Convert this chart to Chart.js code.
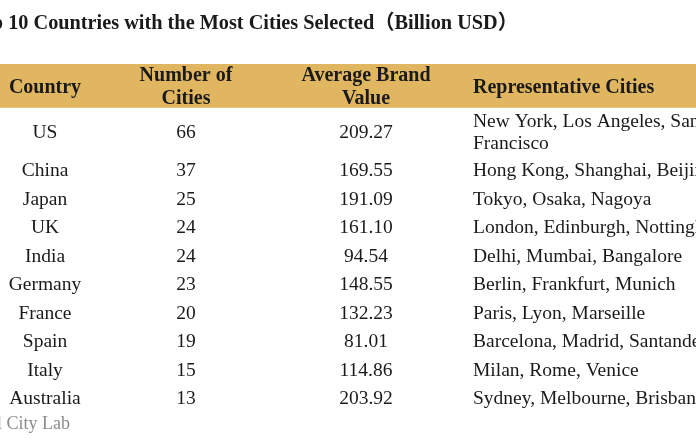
<!DOCTYPE html>
<html>
<head>
<meta charset="utf-8">
<script src="https://cdn.jsdelivr.net/npm/chart.js@4/dist/chart.umd.min.js"></script>
<style>
  html, body { margin: 0; padding: 0; background: #ffffff; }
  #wrap { width: 696px; height: 446px; }
</style>
</head>
<body>
<div id="wrap"><canvas id="c" width="696" height="446"></canvas></div>
<script>
// ---------------- DATA ----------------
const titleText = "Top 10 Countries with the Most Cities Selected（Billion USD）";
const sourceText = "Source: Global City Lab";
const headerLabels = [["Country"], ["Number of", "Cities"], ["Average Brand", "Value"], ["Representative Cities"]];
const countries = ["US", "China", "Japan", "UK", "India", "Germany", "France", "Spain", "Italy", "Australia"];
const cityCounts = [66, 37, 25, 24, 24, 23, 20, 19, 15, 13];
const brandValues = [209.27, 169.55, 191.09, 161.10, 94.54, 148.55, 132.23, 81.01, 114.86, 203.92];
const repCities = [
  "New York, Los Angeles, San Francisco",
  "Hong Kong, Shanghai, Beijing",
  "Tokyo, Osaka, Nagoya",
  "London, Edinburgh, Nottingham",
  "Delhi, Mumbai, Bangalore",
  "Berlin, Frankfurt, Munich",
  "Paris, Lyon, Marseille",
  "Barcelona, Madrid, Santander",
  "Milan, Rome, Venice",
  "Sydney, Melbourne, Brisbane"
];

// ---------------- STYLE / LAYOUT OPTIONS ----------------
const style = {
  serif: '"Liberation Serif", "Times New Roman", "Noto Sans CJK SC", serif',
  bodySize: 19.5,
  headerSize: 20,
  titleSize: 20.3,
  sourceSize: 18,
  textColor: '#1a1a1a',
  sourceColor: '#8c8c8c',
  bandColor: '#E1B660',
  bodyLineGap: 22,
  headerLineGap: 23,
  textNudge: 1.5,
  xRange: [0, 696],
  columns: [
    { anchor: 45,  align: 'center' },
    { anchor: 186, align: 'center' },
    { anchor: 366, align: 'center' },
    { anchor: 473, align: 'left', wrap: 280 }
  ],
  headerUnitsPerLine: 0.77,
  extraLineUnits: 0.675,
  titleAnchor: -30,
  sourceAnchor: 70,
  titleOffset: 42,
  sourceOffset: 11
};

const bodyFont = `${style.bodySize}px ${style.serif}`;
const headerFont = `bold ${style.headerSize}px ${style.serif}`;
const titleFont = `bold ${style.titleSize}px ${style.serif}`;
const sourceFont = `${style.sourceSize}px ${style.serif}`;

// text wrapping helper
const measureCtx = document.createElement('canvas').getContext('2d');
function wrapText(text, font, maxW) {
  if (!maxW) return [text];
  measureCtx.font = font;
  const words = text.split(' ');
  const lines = [];
  let cur = '';
  words.forEach(w => {
    const test = cur ? cur + ' ' + w : w;
    if (measureCtx.measureText(test).width > maxW && cur) { lines.push(cur); cur = w; }
    else cur = test;
  });
  if (cur) lines.push(cur);
  return lines;
}

// build table rows (text cells) and their heights in y-units
const rows = [];
let cursor = 0;
{
  const n = Math.max(...headerLabels.map(h => h.length));
  const units = n * style.headerUnitsPerLine;
  rows.push({ header: true, cells: headerLabels, start: cursor, end: cursor + units });
  cursor += units;
}
countries.forEach((c, i) => {
  const cells = [
    [c],
    [String(cityCounts[i])],
    [brandValues[i].toFixed(2)],
    wrapText(repCities[i], bodyFont, style.columns[3].wrap)
  ];
  const n = Math.max(...cells.map(l => l.length));
  const units = 1 + style.extraLineUnits * (n - 1);
  rows.push({ header: false, cells, start: cursor, end: cursor + units });
  cursor += units;
});
const totalUnits = cursor;
const headerRow = rows[0];

// ---------------- PLUGIN: draws cell text via scales ----------------
const tablePlugin = {
  id: 'tableText',
  afterDatasetsDraw(chart) {
    const { ctx, scales: { x, y }, chartArea } = chart;
    ctx.save();
    ctx.textBaseline = 'middle';
    rows.forEach(row => {
      const yc = (y.getPixelForValue(row.start) + y.getPixelForValue(row.end)) / 2 + style.textNudge;
      const gap = row.header ? style.headerLineGap : style.bodyLineGap;
      ctx.font = row.header ? headerFont : bodyFont;
      ctx.fillStyle = style.textColor;
      row.cells.forEach((lines, ci) => {
        const col = style.columns[ci];
        ctx.textAlign = col.align;
        const xp = x.getPixelForValue(col.anchor);
        lines.forEach((ln, li) => {
          ctx.fillText(ln, xp, yc + (li - (lines.length - 1) / 2) * gap);
        });
      });
    });
    // title
    ctx.font = titleFont;
    ctx.textAlign = 'left';
    ctx.fillStyle = style.textColor;
    ctx.fillText(titleText, x.getPixelForValue(style.titleAnchor), chartArea.top - style.titleOffset + style.textNudge);
    // source
    ctx.font = sourceFont;
    ctx.textAlign = 'right';
    ctx.fillStyle = style.sourceColor;
    ctx.fillText(sourceText, x.getPixelForValue(style.sourceAnchor), chartArea.bottom + style.sourceOffset + style.textNudge);
    ctx.restore();
  }
};

// ---------------- CHART ----------------
new Chart(document.getElementById('c'), {
  type: 'line',
  data: {
    datasets: [{
      label: 'header band',
      data: [{ x: style.xRange[0], y: headerRow.start }, { x: style.xRange[1], y: headerRow.start }],
      fill: { value: headerRow.end },
      backgroundColor: style.bandColor,
      borderColor: style.bandColor,
      borderWidth: 0,
      pointRadius: 0,
      tension: 0
    }]
  },
  options: {
    responsive: false,
    devicePixelRatio: 1,
    animation: false,
    layout: { padding: { top: 64, bottom: 34, left: 0, right: 0 } },
    plugins: { legend: { display: false }, title: { display: false }, tooltip: { enabled: false } },
    scales: {
      x: { type: 'linear', display: false, min: style.xRange[0], max: style.xRange[1] },
      y: { type: 'linear', display: false, reverse: true, min: 0, max: totalUnits }
    }
  },
  plugins: [tablePlugin]
});
</script>
</body>
</html>
